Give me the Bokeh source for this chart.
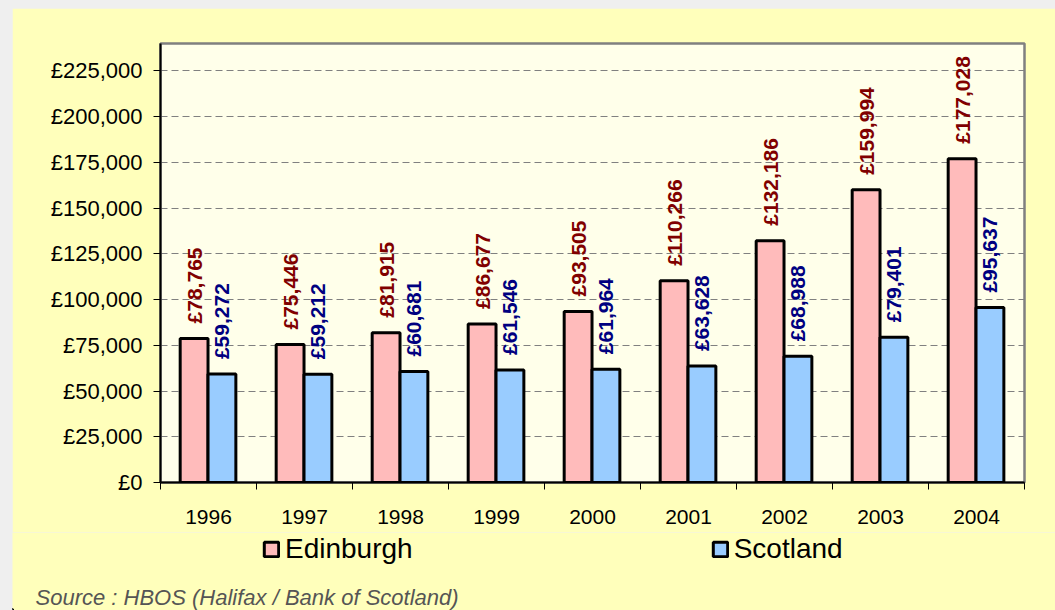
import numpy as np
from bokeh.plotting import figure
from bokeh.layouts import column
from bokeh.models import (ColumnDataSource, Range1d, FixedTicker, Legend, LegendItem)
from bokeh.core.properties import value
from bokeh.embed import file_html
from bokeh.resources import INLINE

years = ["1996", "1997", "1998", "1999", "2000", "2001", "2002", "2003", "2004"]
edinburgh = [78765, 75446, 81915, 86677, 93505, 110266, 132186, 159994, 177028]
scotland = [59272, 59212, 60681, 61546, 61964, 63628, 68988, 79401, 95637]
y_ticks = list(range(0, 250000, 25000))
series_names = ["Edinburgh", "Scotland"]
source_note = "Source : HBOS (Halifax / Bank of Scotland)"

FONT = "Liberation Sans"
YELLOW = "#FFFFBB"
PINK = "#FFBBBB"
BLUE = "#99CCFF"
idx = np.arange(len(years))

src_e = ColumnDataSource(dict(x=idx + 0.35, top=edinburgh, lab=[f"£{v:,}" for v in edinburgh]))
src_s = ColumnDataSource(dict(x=idx + 0.64, top=scotland, lab=[f"£{v:,}" for v in scotland]))

# ---------------- main chart ----------------
p = figure(width=1043, height=524, output_backend="svg", toolbar_location=None,
           x_range=Range1d(0, len(years)), y_range=Range1d(0, 240000),
           frame_width=864, frame_height=439,
           min_border_left=148, min_border_top=35, min_border_right=31, min_border_bottom=50)
p.margin = (8, 0, 0, 12)
p.frame_align = False

p.background_fill_color = "#FFFFEA"
p.border_fill_color = YELLOW
p.outline_line_color = "#808080"
p.outline_line_width = 2.5

p.vbar(x="x", top="top", width=0.29, source=src_e, fill_color=PINK,
       line_color="black", line_width=3)
p.vbar(x="x", top="top", width=0.29, source=src_s, fill_color=BLUE,
       line_color="black", line_width=3)

p.text(x="x", y="top", text="lab", source=src_e, angle=np.pi / 2, text_align="left",
       text_baseline="middle", y_offset=-15, text_font=value(FONT), text_font_style="bold",
       text_font_size="21px", text_color="#800000")
p.text(x="x", y="top", text="lab", source=src_s, angle=np.pi / 2, text_align="left",
       text_baseline="middle", y_offset=-15, text_font=value(FONT), text_font_style="bold",
       text_font_size="21px", text_color="#000080")

# x axis: labels at category centres, ticks at category boundaries
p.xaxis.ticker = FixedTicker(ticks=[i + 0.5 for i in idx], minor_ticks=list(range(len(years) + 1)))
p.xaxis.major_label_overrides = {float(i + 0.5): y for i, y in zip(idx, years)}
p.xaxis.major_tick_out = 0
p.xaxis.major_tick_in = 0
p.xaxis.minor_tick_out = 7
p.xaxis.minor_tick_in = 0
p.xaxis.minor_tick_line_color = "black"
p.xaxis.minor_tick_line_width = 1
p.xaxis.major_label_standoff = 20
p.xaxis.major_label_text_font_size = "21px"

# y axis
p.yaxis.ticker = FixedTicker(ticks=y_ticks)
p.yaxis.major_label_overrides = {v: f"£{v:,}" for v in y_ticks}
p.yaxis.major_tick_out = 7
p.yaxis.major_tick_in = 0
p.yaxis.minor_tick_line_color = None
p.yaxis.major_label_standoff = 11
p.yaxis.major_label_text_font_size = "22px"

for ax in (p.xaxis, p.yaxis):
    ax.axis_line_color = "black"
    ax.axis_line_width = 2
    ax.major_tick_line_color = "black"
    ax.major_label_text_font = FONT
    ax.major_label_text_color = "black"

p.xgrid.grid_line_color = None
p.ygrid.grid_line_color = "#808080"
p.ygrid.grid_line_dash = "7 4"
p.ygrid.grid_line_width = 1

# ---------------- legend + source strip ----------------
H2 = 78
p2 = figure(width=1043, height=H2, output_backend="svg", toolbar_location=None,
            x_range=Range1d(0, 1043), y_range=Range1d(0, H2),
            x_axis_type=None, y_axis_type=None, min_border=0)
p2.margin = (0, 0, 0, 12)
p2.frame_align = False
p2.background_fill_color = YELLOW
p2.border_fill_color = YELLOW
p2.outline_line_color = None

# off-screen proxies so the legend can show the series swatches
le = p2.vbar(x=[-500], top=[1], width=1, fill_color=PINK, line_color="black", line_width=3)
ls = p2.vbar(x=[-500], top=[1], width=1, fill_color=BLUE, line_color="black", line_width=3)

legend = Legend(items=[LegendItem(label=series_names[0], renderers=[le]),
                       LegendItem(label=series_names[1], renderers=[ls])],
                orientation="horizontal", location=(250, 45), spacing=298,
                glyph_width=18, glyph_height=18, label_standoff=5, padding=0, margin=0,
                label_height=30, border_line_alpha=0, background_fill_alpha=0,
                label_text_font=FONT, label_text_font_size="28px", label_text_color="black")
p2.add_layout(legend, "center")

p2.text(x=[23], y=[13], text=[source_note], text_font=value(FONT), text_font_style="italic",
        text_font_size="22px", text_color="#555555", text_baseline="middle", text_align="left")

layout = column(p, p2, styles={"background-color": "#EFEFEF"})
open("out.html", "w").write(file_html(layout, INLINE))
